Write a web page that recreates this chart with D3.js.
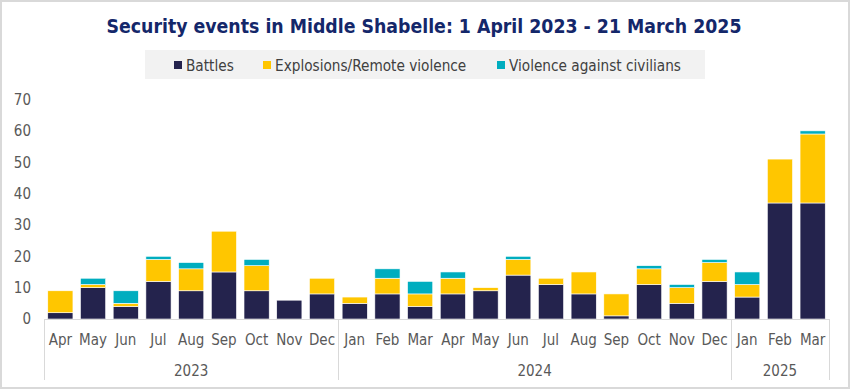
<!DOCTYPE html>
<html>
<head>
<meta charset="utf-8">
<script src="https://cdn.jsdelivr.net/npm/d3@7"></script>
<style>
  body { margin: 0; background: #fff; }
  svg text { font-family: "DejaVu Sans Condensed", "DejaVu Sans", sans-serif; }
</style>
</head>
<body>
<div id="chart"></div>
<script>
// months shown on the axis, grouped by year
var months = ["Apr", "May", "Jun", "Jul", "Aug", "Sep", "Oct", "Nov", "Dec",
              "Jan", "Feb", "Mar", "Apr", "May", "Jun", "Jul", "Aug", "Sep", "Oct", "Nov", "Dec",
              "Jan", "Feb", "Mar"];
var yearLabels = ["2023", "2024", "2025"];
var yearCounts = [9, 12, 3];

var battles    = [2, 10, 4, 12, 9, 15, 9, 6, 8,  5, 8, 4, 8, 9, 14, 11, 8, 1, 11, 5, 12,  7, 37, 37];
var explosions = [7, 1, 1, 7, 7, 13, 8, 0, 5,    2, 5, 4, 5, 1, 5, 2, 7, 7, 5, 5, 6,       4, 14, 22];
var violence   = [0, 2, 4, 1, 2, 0, 2, 0, 0,     0, 3, 4, 2, 0, 1, 0, 0, 0, 1, 1, 1,       4, 0, 1];

var seriesNames = ["Battles", "Explosions/Remote violence", "Violence against civilians"];
var yTicks = [0, 10, 20, 30, 40, 50, 60, 70];

var width = 850, height = 390;
var colors = ["#24234d", "#ffc600", "#00adbf"];
var keys = ["b", "e", "v"];

var rows = months.map(function(m, i) {
  return { i: i, b: battles[i], e: explosions[i], v: violence[i] };
});

var svg = d3.select("#chart").append("svg")
    .attr("width", width)
    .attr("height", height);

// outer frame
svg.append("rect")
    .attr("x", 1).attr("y", 1)
    .attr("width", width - 2).attr("height", height - 3)
    .attr("fill", "#fff")
    .attr("stroke", "#d9d9d9")
    .attr("stroke-width", 2);

svg.append("text")
    .attr("x", 424).attr("y", 33)
    .attr("text-anchor", "middle")
    .attr("fill", "#14276a")
    .style("font-weight", "bold")
    .style("font-size", "19.3px")
    .text("Security events in Middle Shabelle: 1 April 2023 - 21 March 2025");

// legend
var legend = svg.append("g");
legend.append("rect")
    .attr("x", 145).attr("y", 50)
    .attr("width", 560).attr("height", 29)
    .attr("fill", "#f2f2f2");

var legendX = [174, 263, 497];
var li = legend.selectAll(".li")
    .data(seriesNames)
    .enter().append("g")
    .attr("class", "li")
    .attr("transform", function(d, i) { return "translate(" + legendX[i] + ",0)"; });
li.append("rect")
    .attr("y", 61).attr("width", 8).attr("height", 8)
    .attr("fill", function(d, i) { return colors[i]; });
li.append("text")
    .attr("x", 12).attr("y", 70.5)
    .attr("fill", "#404040")
    .style("font-size", "15.2px")
    .text(function(d) { return d; });

var x = d3.scaleBand()
    .domain(d3.range(months.length))
    .range([44, 829])
    .paddingInner(0.23)
    .paddingOuter(0.115);

var y = d3.scaleLinear()
    .domain([0, 70])
    .range([319, 99.5]);

var yAxis = svg.append("g")
    .attr("transform", "translate(31,0)")
    .call(d3.axisLeft(y).tickValues(yTicks).tickSize(0).tickPadding(0));
yAxis.select(".domain").remove();
yAxis.selectAll("text")
    .attr("fill", "#595959")
    .style("font-size", "15px")
    .style("font-family", "\"DejaVu Sans Condensed\", \"DejaVu Sans\", sans-serif");

var stack = d3.stack().keys(keys);
var layers = stack(rows);

svg.append("g").selectAll("g")
    .data(layers)
    .enter().append("g")
    .attr("fill", function(d, i) { return colors[i]; })
    .selectAll("rect")
    .data(function(d) { return d; })
    .enter().append("rect")
    .attr("x", function(d) { return x(d.data.i); })
    .attr("width", x.bandwidth())
    .attr("y", function(d) { return y(d[1]); })
    .attr("height", function(d) { return y(d[0]) - y(d[1]); })
    .attr("stroke", "#fff")
    .attr("stroke-width", 0.6);

// category axis: baseline, group dividers, month and year labels
var axisCol = "#d9d9d9";
svg.append("line")
    .attr("x1", 44).attr("x2", 829)
    .attr("y1", 319.5).attr("y2", 319.5)
    .attr("stroke", axisCol);

var step = x.step();
var bounds = [0];
yearCounts.forEach(function(c, i) { bounds.push(bounds[i] + c); });

svg.selectAll(".div")
    .data(bounds)
    .enter().append("line")
    .attr("x1", function(d) { return Math.round(44 + d * step) + 0.5; })
    .attr("x2", function(d) { return Math.round(44 + d * step) + 0.5; })
    .attr("y1", 319).attr("y2", 380)
    .attr("stroke", axisCol);

svg.selectAll(".mlab")
    .data(months)
    .enter().append("text")
    .attr("x", function(d, i) { return x(i) + x.bandwidth() / 2; })
    .attr("y", 345)
    .attr("text-anchor", "middle")
    .attr("fill", "#595959")
    .style("font-size", "15px")
    .text(function(d) { return d; });

svg.selectAll(".ylab")
    .data(yearLabels)
    .enter().append("text")
    .attr("x", function(d, i) { return 44 + (bounds[i] + bounds[i + 1]) / 2 * step; })
    .attr("y", 376)
    .attr("text-anchor", "middle")
    .attr("fill", "#595959")
    .style("font-size", "15px")
    .text(function(d) { return d; });
</script>
</body>
</html>
